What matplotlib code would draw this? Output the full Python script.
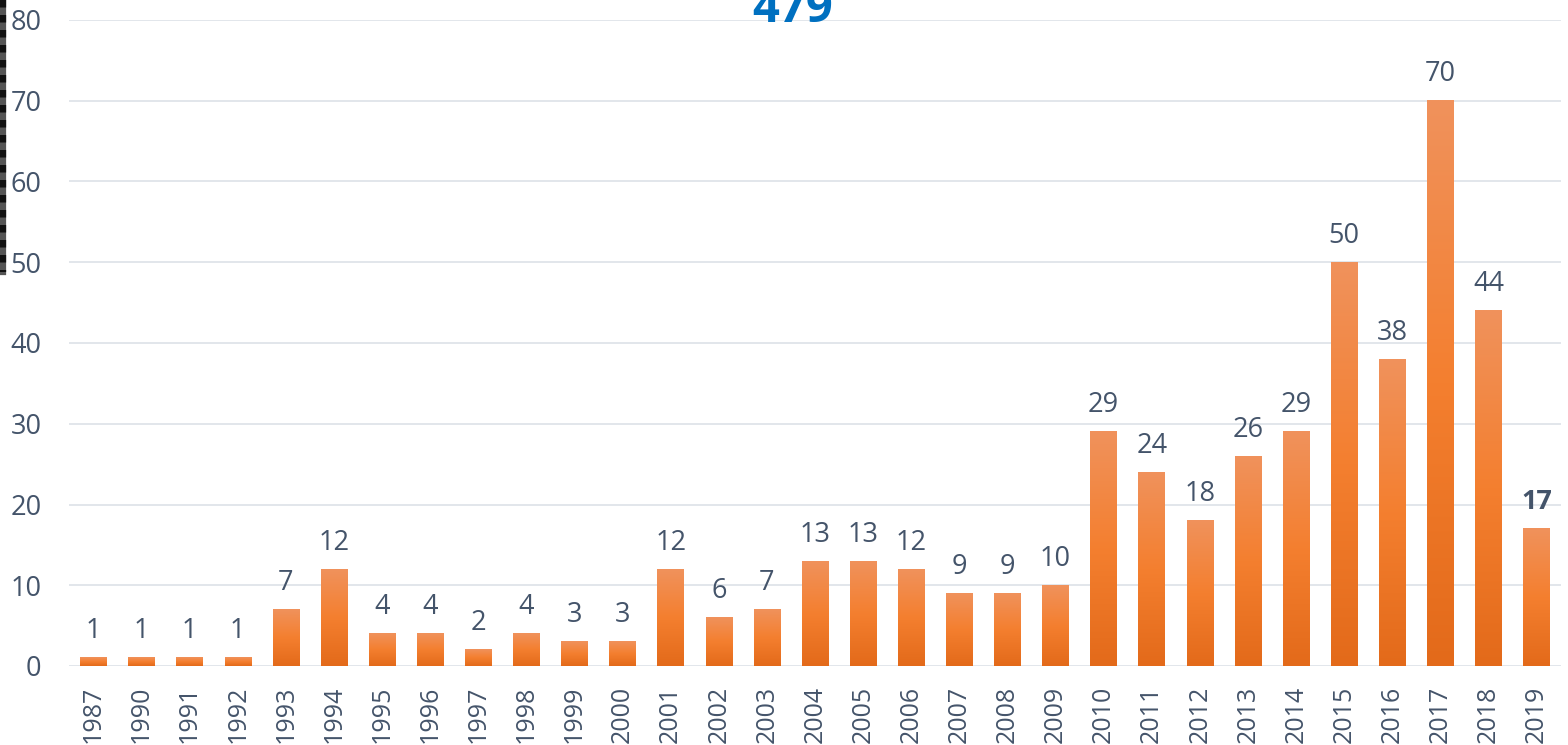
import numpy as np
import matplotlib
matplotlib.use('Agg')
import matplotlib.pyplot as plt
from matplotlib.colors import LinearSegmentedColormap
from matplotlib.lines import Line2D

years = ['1987', '1990', '1991', '1992', '1993', '1994', '1995', '1996', '1997', '1998',
         '1999', '2000', '2001', '2002', '2003', '2004', '2005', '2006', '2007', '2008',
         '2009', '2010', '2011', '2012', '2013', '2014', '2015', '2016', '2017', '2018', '2019']
counts = [1, 1, 1, 1, 7, 12, 4, 4, 2, 4, 3, 3, 12, 6, 7, 13, 13, 12, 9, 9,
          10, 29, 24, 18, 26, 29, 50, 38, 70, 44, 17]
total = '479'

plt.rcParams['font.family'] = ['Open Sans', 'DejaVu Sans']
txt = '#44546A'

fig = plt.figure(figsize=(15.68, 7.45), dpi=100)
ax = fig.add_axes([69.4 / 1568, 79 / 745, (1560.6 - 69.4) / 1568, 646 / 745])

cmap = LinearSegmentedColormap.from_list('bar', ['#E36A1A', '#F47F2F', '#F0925C'])
grad = np.linspace(0, 1, 256).reshape(-1, 1)
w = 0.55
x = np.arange(len(years))
for i, v in zip(x, counts):
    ax.imshow(grad, cmap=cmap, origin='lower', aspect='auto',
              extent=[i - w / 2, i + w / 2, 0, v], zorder=2, interpolation='bilinear')
    bold = 'bold' if i == len(years) - 1 else 'normal'
    ax.annotate(str(v), (i, v), xytext=(0, 14), textcoords='offset points',
                ha='center', va='baseline', fontsize=19.5, color=txt, fontweight=bold)

ax.set_xlim(-0.5, len(years) - 0.5)
ax.set_ylim(0, 80)
ax.set_yticks(range(0, 81, 10))
ax.set_xticks(x)
ax.set_xticklabels(years, rotation=90)
ax.tick_params(axis='both', length=0, labelcolor=txt)
ax.tick_params(axis='x', pad=14, labelsize=18)
ax.tick_params(axis='y', pad=20, labelsize=19.5)
ax.grid(axis='y', color='#DDE1E7', lw=1.2, zorder=0)
ax.set_axisbelow(True)
for s in ax.spines.values():
    s.set_visible(False)

fig.text(793 / 1568, (745 - 22) / 745, total, ha='center', va='baseline',
         fontsize=34, fontweight='bold', color='#0070C0')

# dark strip on the left edge
fig.add_artist(Line2D([3 / 1568, 3 / 1568], [1, (745 - 272) / 745], color='#555555',
                      lw=4.5, transform=fig.transFigure))
fig.add_artist(Line2D([3 / 1568, 3 / 1568], [1, (745 - 272) / 745], color='#111111',
                      lw=4.5, dashes=(1.2, 1.2), transform=fig.transFigure))

fig.savefig('out.png', dpi=100)
